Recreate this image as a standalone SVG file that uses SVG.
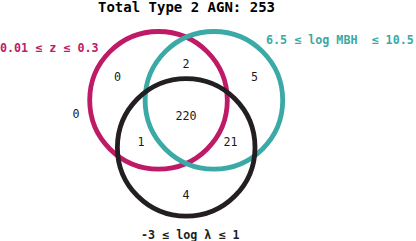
<svg xmlns="http://www.w3.org/2000/svg" width="416" height="241" viewBox="0 0 416 241">
<style>
.c{fill:none;stroke-width:4.8}
.t{font-family:"DejaVu Sans Mono","Liberation Mono",monospace;white-space:pre}
.n{font-size:11.7px;fill:#1a1a1a;text-anchor:middle}
.lb{font-size:11.7px;font-weight:bold}
</style>
<rect width="416" height="241" fill="#ffffff"/>
<text class="t" x="186.5" y="12" font-size="14" font-weight="bold" text-anchor="middle" fill="#000000">Total Type 2 AGN: 253</text>
<g id="connectors"></g>
<g id="set-z">
<circle class="c" cx="158.5" cy="100.3" r="68.8" stroke="#BE1A66"/>
<text class="t lb" x="0" y="52" fill="#BE1A66">0.01 ≤ z ≤ 0.3</text>
</g>
<g id="set-mbh">
<circle class="c" cx="213.9" cy="100.3" r="68.8" stroke="#3BA9A5"/>
<text class="t lb" x="266" y="44" fill="#3BA9A5" xml:space="preserve">6.5 ≤ log MBH  ≤ 10.5</text>
</g>
<g id="set-lambda">
<circle class="c" cx="186.2" cy="147.4" r="68.8" stroke="#221E22"/>
<text class="t lb" x="141" y="238.5" fill="#221E22">-3 ≤ log λ ≤ 1</text>
</g>
<g id="counts" class="t n">
<text x="117.5" y="81">0</text>
<text x="186" y="68">2</text>
<text x="254.5" y="81">5</text>
<text x="76" y="117.5">0</text>
<text x="186" y="120">220</text>
<text x="141" y="146">1</text>
<text x="230.5" y="146">21</text>
<text x="186" y="199">4</text>
</g>
</svg>
